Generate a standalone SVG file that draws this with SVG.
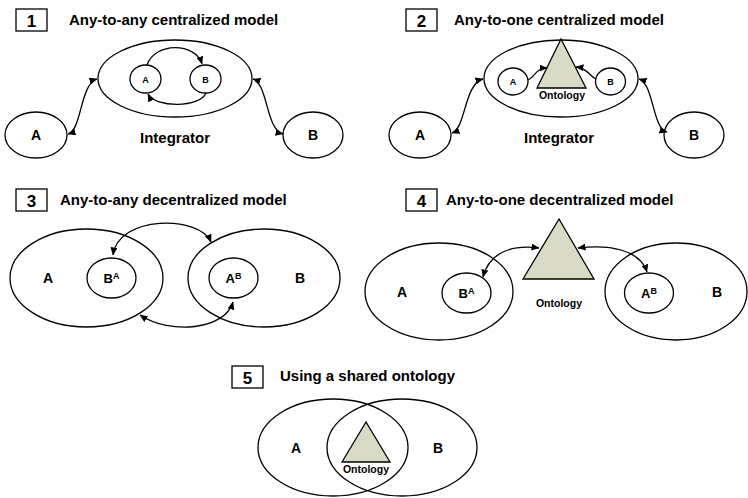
<svg xmlns="http://www.w3.org/2000/svg" width="748" height="498" viewBox="0 0 748 498">
<defs>
<marker id="ah" viewBox="0 0 8 7" refX="7.5" refY="3.5" markerWidth="8" markerHeight="7" markerUnits="userSpaceOnUse" orient="auto-start-reverse">
<path d="M0,0 L8,3.5 L0,7 z" fill="#000"/>
</marker>
</defs>
<style>
.s{fill:none;stroke:#000;stroke-width:1.3}
.w{fill:#fff;stroke:#000;stroke-width:1.3}
.tri{fill:#d9dbc6;stroke:#000;stroke-width:1.3}
.c{fill:none;stroke:#000;stroke-width:1.3;marker-end:url(#ah)}
.cb{fill:none;stroke:#000;stroke-width:1.3;marker-start:url(#ah);marker-end:url(#ah)}
text{font-family:"Liberation Sans",Arial,sans-serif;font-weight:bold;fill:#000}
.t{font-size:15px}
.n{font-size:17px;text-anchor:middle}
.l{font-size:14px;text-anchor:middle}
.m{font-size:15px;text-anchor:middle}
.sm{font-size:9px;text-anchor:middle}
.o{font-size:10.5px;text-anchor:middle}
.sup{font-size:9px}
</style>

<!-- Panel 1 -->
<g id="p1-title">
<rect class="s" x="16" y="9" width="31" height="22"/>
<text class="n" x="31.5" y="26.5">1</text>
<text class="t" x="69" y="25">Any-to-any centralized model</text>
</g>
<g id="p1-integrator">
<ellipse class="w" cx="175" cy="78.5" rx="77" ry="38.5"/>
<text class="m" x="175" y="143">Integrator</text>
</g>
<g id="p1-inA"><ellipse class="w" cx="145.5" cy="79" rx="15.5" ry="14"/><text class="sm" x="145.5" y="82.5">A</text></g>
<g id="p1-inB"><ellipse class="w" cx="205.5" cy="79" rx="15.5" ry="14"/><text class="sm" x="205.5" y="82.5">B</text></g>
<g id="p1-A"><ellipse class="w" cx="36" cy="135" rx="31" ry="23"/><text class="l" x="36" y="140">A</text></g>
<g id="p1-B"><ellipse class="w" cx="313" cy="135" rx="30" ry="23"/><text class="l" x="313" y="140">B</text></g>

<!-- Panel 2 -->
<g id="p2-title">
<rect class="s" x="406" y="9" width="31" height="22"/>
<text class="n" x="421.5" y="26.5">2</text>
<text class="t" x="454" y="25">Any-to-one centralized model</text>
</g>
<g id="p2-integrator">
<ellipse class="w" cx="561" cy="78.5" rx="77" ry="38.5"/>
<text class="m" x="559" y="143">Integrator</text>
</g>
<g id="p2-ontology">
<polygon class="tri" points="561,39 537,88 586,88"/>
<text class="o" x="562" y="99">Ontology</text>
</g>
<g id="p2-inA"><ellipse class="w" cx="513" cy="81.5" rx="15" ry="13.5"/><text class="sm" x="513" y="85">A</text></g>
<g id="p2-inB"><ellipse class="w" cx="610.5" cy="81.5" rx="15" ry="13.5"/><text class="sm" x="610.5" y="85">B</text></g>
<g id="p2-A"><ellipse class="w" cx="420" cy="135" rx="31" ry="23"/><text class="l" x="420" y="140">A</text></g>
<g id="p2-B"><ellipse class="w" cx="694" cy="135" rx="30" ry="23"/><text class="l" x="694" y="140">B</text></g>

<!-- Panel 3 -->
<g id="p3-title">
<rect class="s" x="16" y="189" width="31" height="22"/>
<text class="n" x="31.5" y="206.5">3</text>
<text class="t" x="60" y="205">Any-to-any decentralized model</text>
</g>
<g id="p3-A">
<ellipse class="s" cx="86.5" cy="278" rx="76.5" ry="49"/>
<text class="l" x="48" y="283">A</text>
</g>
<g id="p3-BA">
<ellipse class="s" cx="111.5" cy="278" rx="24.5" ry="20"/>
<text x="111.5" y="283" style="font-size:13px;text-anchor:middle">B<tspan class="sup" dy="-4">A</tspan></text>
</g>
<g id="p3-B">
<ellipse class="s" cx="264" cy="278" rx="76" ry="49"/>
<text class="l" x="300" y="283">B</text>
</g>
<g id="p3-AB">
<ellipse class="s" cx="233.5" cy="278" rx="24.5" ry="20"/>
<text x="233.5" y="283" style="font-size:13px;text-anchor:middle">A<tspan class="sup" dy="-4">B</tspan></text>
</g>

<!-- Panel 4 -->
<g id="p4-title">
<rect class="s" x="406" y="189" width="31" height="22"/>
<text class="n" x="421.5" y="206.5">4</text>
<text class="t" x="446" y="205">Any-to-one decentralized model</text>
</g>
<g id="p4-A">
<ellipse class="s" cx="439" cy="291.5" rx="74" ry="48.5"/>
<text class="l" x="402" y="297">A</text>
</g>
<g id="p4-BA">
<ellipse class="s" cx="466.5" cy="293" rx="24.5" ry="20"/>
<text x="466.5" y="298" style="font-size:13px;text-anchor:middle">B<tspan class="sup" dy="-4">A</tspan></text>
</g>
<g id="p4-ontology">
<polygon class="tri" points="559,219 523,279 594,279"/>
<text class="o" x="559" y="307">Ontology</text>
</g>
<g id="p4-B">
<ellipse class="s" cx="676" cy="291.5" rx="71" ry="48.5"/>
<text class="l" x="717" y="297">B</text>
</g>
<g id="p4-AB">
<ellipse class="s" cx="649" cy="293" rx="24.5" ry="20"/>
<text x="649" y="298" style="font-size:13px;text-anchor:middle">A<tspan class="sup" dy="-4">B</tspan></text>
</g>

<!-- Panel 5 -->
<g id="p5-title">
<rect class="s" x="232" y="366" width="31" height="22"/>
<text class="n" x="247.5" y="383.5">5</text>
<text class="t" x="280" y="381">Using a shared ontology</text>
</g>
<g id="p5-A">
<ellipse class="s" cx="333" cy="447.5" rx="75" ry="48.5"/>
<text class="l" x="296" y="453">A</text>
</g>
<g id="p5-B">
<ellipse class="s" cx="402" cy="447.5" rx="75" ry="48.5"/>
<text class="l" x="438" y="453">B</text>
</g>
<g id="p5-ontology">
<polygon class="tri" points="366,422 342,462 390,462"/>
<text class="o" x="366" y="473">Ontology</text>
</g>

<!-- Connectors -->
<g id="connectors">
<path class="cb" d="M 68 134 C 82 130, 80 84, 97 79"/>
<path class="cb" d="M 253 79 C 268 84, 266 130, 283 134"/>
<path class="c" d="M 147 65 C 155 42, 195 42, 202 64"/>
<path class="c" d="M 206 93 C 200 108, 155 108, 148 94"/>
<path class="cb" d="M 452 133 C 466 128, 464 84, 483 79"/>
<path class="cb" d="M 639 79 C 654 84, 652 128, 667 132"/>
<path class="c" d="M 528 80 C 534 78, 536 68, 547 68"/>
<path class="c" d="M 596 79 C 590 77, 588 68, 576 67"/>
<path class="cb" d="M 113 255 C 118 215, 200 215, 211 242"/>
<path class="cb" d="M 140 315 C 170 335, 225 330, 233 302"/>
<path class="cb" d="M 483 277 C 490 250, 515 245, 539 248"/>
<path class="cb" d="M 578 248 C 610 244, 640 250, 647 272"/>
</g>
</svg>
